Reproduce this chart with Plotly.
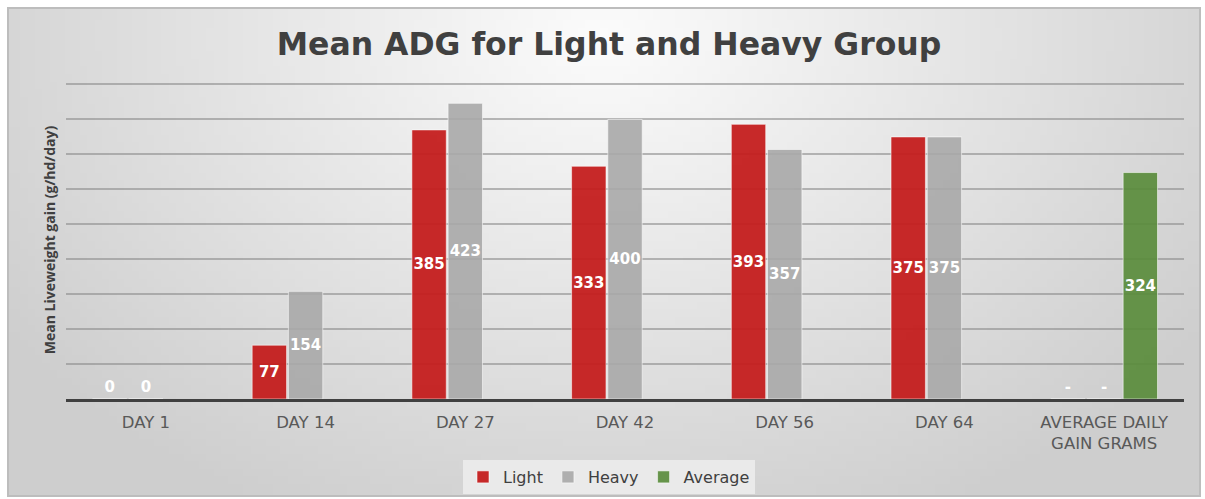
import plotly.graph_objects as go
import zlib, struct, base64, math

categories = ["DAY 1", "DAY 14", "DAY 27", "DAY 42", "DAY 56", "DAY 64", "AVERAGE DAILY<br>GAIN GRAMS"]
light = [0, 77, 385, 333, 393, 375, None]
heavy = [0, 154, 423, 400, 357, 375, None]
average = [None, None, None, None, None, None, 324]

# ---- background gradient image (styling only) ----
def make_png(w, h):
    rows = b""
    for j in range(h):
        row = b"\x00"
        for i in range(w):
            dx = (i / (w - 1) - 0.5) * 1.0
            dy = (j / (h - 1) - 0.05) * 0.55
            d = min(1.0, math.sqrt(dx * dx + dy * dy) / 0.62)
            v = int(252 - 46 * d)
            row += bytes([v, v, v])
        rows += row
    def chunk(t, data):
        c = struct.pack(">I", len(data)) + t + data
        return c + struct.pack(">I", zlib.crc32(t + data) & 0xffffffff)
    png = b"\x89PNG\r\n\x1a\n" + chunk(b"IHDR", struct.pack(">IIBBBBB", w, h, 8, 2, 0, 0, 0))
    png += chunk(b"IDAT", zlib.compress(rows)) + chunk(b"IEND", b"")
    return "data:image/png;base64," + base64.b64encode(png).decode()

bg = make_png(160, 64)

W, H = 1205, 499
L, R, T, B = 66, 1184, 81, 399
pw, ph = R - L, B - T
def px(x): return (x - L) / pw
def py(y): return (B - y) / ph

def vals(a): return [v if v is not None else 0 for v in a]
def texts(a): return [str(v) if v is not None else "-" for v in a]
def pos(a): return ["inside" if (v or 0) > 0 else "outside" for v in a]

lab_font = dict(family="DejaVu Sans", size=15, color="white", weight="bold")

fig = go.Figure()
for name, data, col in [("Light", light, "rgba(196,30,30,0.95)"),
                        ("Heavy", heavy, "rgba(168,168,168,0.9)")]:
    fig.add_trace(go.Bar(
        x=categories, y=vals(data), name=name, text=texts(data),
        textposition=pos(data), insidetextanchor="middle", constraintext="none", textangle=0,
        textfont=lab_font, insidetextfont=lab_font, outsidetextfont=lab_font,
        marker=dict(color=col, line=dict(color="rgba(255,255,255,0.55)", width=1)),
        cliponaxis=False, hoverinfo="skip"))
fig.add_trace(go.Bar(
    x=categories, y=average, name="Average", text=[str(v) if v is not None else "" for v in average],
    textposition="inside", insidetextanchor="middle", constraintext="none", textangle=0,
    textfont=lab_font, insidetextfont=lab_font,
    marker=dict(color="rgba(90,140,60,0.92)", line=dict(color="rgba(255,255,255,0.55)", width=1)),
    cliponaxis=False, hoverinfo="skip"))

fig.update_layout(
    width=W, height=H,
    margin=dict(l=L, r=W - R, t=T, b=H - B, autoexpand=False),
    paper_bgcolor="white", plot_bgcolor="rgba(0,0,0,0)",
    barmode="group", bargap=0.32, bargroupgap=0.05,
    title=dict(text="<b>Mean ADG for Light and Heavy Group</b>", x=px(609), xanchor="center",
               xref="paper", y=1 - 44 / H, yanchor="middle",
               font=dict(family="DejaVu Sans", size=31.5, color="#404040")),
    font=dict(family="DejaVu Sans", color="#595959"),
    showlegend=True,
    legend=dict(orientation="h", x=px(609), xanchor="center", y=py(477), yanchor="middle",
                font=dict(size=16, color="#404040"), bgcolor="rgba(236,236,236,0.9)",
                itemwidth=30, traceorder="normal"),
    images=[dict(source=bg, xref="paper", yref="paper", x=px(9), y=py(9),
                 sizex=(1199 - 9) / pw, sizey=(495 - 9) / ph, sizing="stretch",
                 xanchor="left", yanchor="top", layer="below")],
    shapes=[dict(type="rect", xref="paper", yref="paper", x0=px(8), x1=px(1200),
                 y0=py(496), y1=py(8), line=dict(color="#bdbdbd", width=2), layer="below")],
)
fig.update_xaxes(showline=True, linecolor="#404040", linewidth=3, showgrid=False, automargin=False,
                 tickfont=dict(size=16.5, color="#595959"), ticks="", ticklabelstandoff=6)
fig.update_yaxes(range=[0, 455], dtick=50, showticklabels=False, showgrid=True, automargin=False,
                 gridcolor="rgba(140,140,140,0.6)", gridwidth=1.5, zeroline=False,
                 title=dict(text="<b>Mean Liveweight gain (g/hd/day)</b>", standoff=6,
                            font=dict(family="Open Sans", size=14, color="#404040")))
fig.write_html("out.html", config={"displayModeBar": False},
               post_script="document.body.style.margin='0';")
